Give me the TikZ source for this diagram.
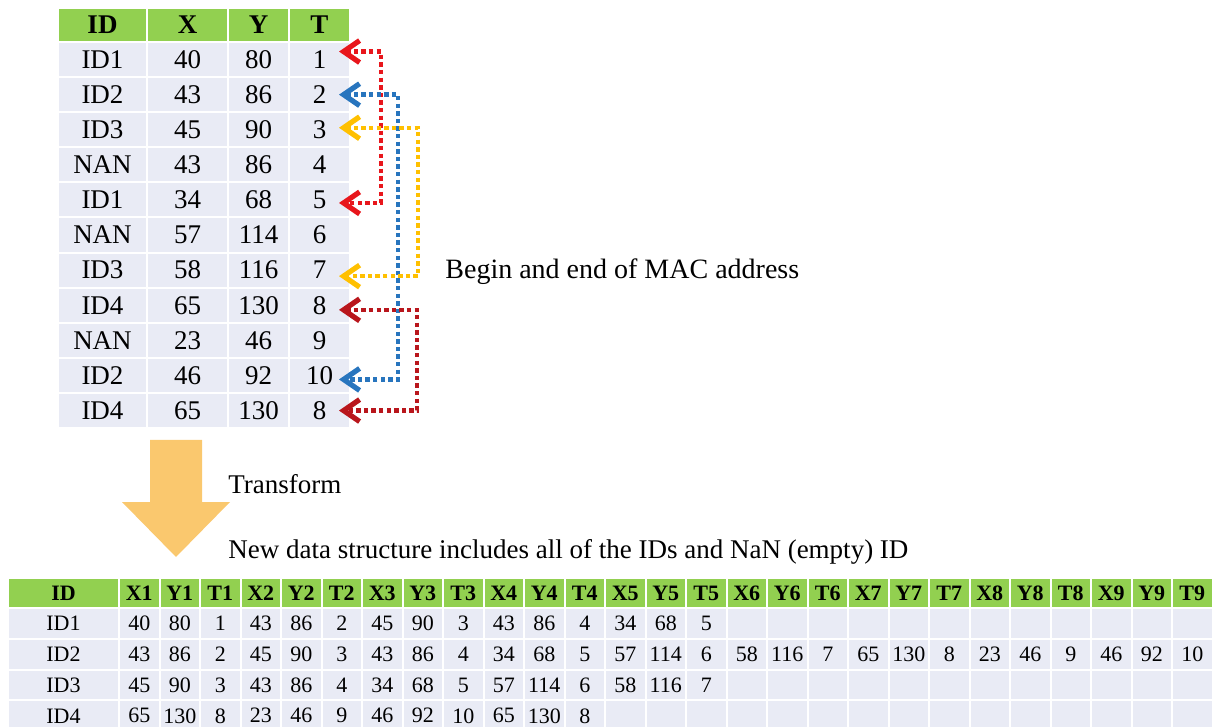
\documentclass[tikz,border=0pt]{standalone}
\usepackage{fontspec}
\setmainfont{Liberation Serif}
\usetikzlibrary{arrows.meta, positioning, calc}
\definecolor{hdrgreen}{RGB}{146,208,80}
\definecolor{cellgray}{RGB}{233,235,245}
\definecolor{linkred}{RGB}{232,22,28}
\definecolor{linkblue}{RGB}{40,117,190}
\definecolor{linkyellow}{RGB}{255,192,0}
\definecolor{linkdarkred}{RGB}{185,22,28}
\definecolor{flowarrow}{RGB}{250,200,110}
\tikzset{
    cell/.style={rectangle, draw=white, line width=1pt, fill=cellgray, inner sep=0pt,
        font=\fontsize{13.5}{16}\selectfont},
    hcell/.style={cell, fill=hdrgreen, font=\fontsize{13.5}{16}\selectfont\bfseries},
    % the wide table uses a smaller size
    small/.style={font=\fontsize{11}{13}\selectfont},
    smallbf/.style={font=\fontsize{11}{13}\selectfont\bfseries},
    link/.style={<->, >={Straight Barb[length=8pt, width=11pt, line width=2.6pt]}, line width=2.2pt,
        dash pattern=on 2.2pt off 1.6pt},
    note/.style={anchor=west, inner sep=0pt, font=\fontsize{14}{16}\selectfont},
}
\begin{document}
\begin{tikzpicture}[x=0.5pt, y=-0.5pt]
    \useasboundingbox (0,0) rectangle (1222,727);

    % raw records
    \foreach \h/\cx/\w [count=\c] in {ID/102.5/44.5, X/187.5/40.5, Y/258.5/30.5, T/319.5/30.5}
        \node[hcell, minimum width=\w pt, minimum height=17pt] (a-0-\c) at (\cx,25) {\h};
    \foreach \id/\x/\y/\t [count=\r] in {ID1/40/80/1, ID2/43/86/2, ID3/45/90/3, NAN/43/86/4,
            ID1/34/68/5, NAN/57/114/6, ID3/58/116/7, ID4/65/130/8, NAN/23/46/9,
            ID2/46/92/10, ID4/65/130/8} {
        \node[cell, minimum width=44.5pt, minimum height=17.55pt] (a-\r-1) at (102.5, {24.45+35.1*\r}) {\id};
        \node[cell, minimum width=40.5pt, minimum height=17.55pt] (a-\r-2) at (187.5, {24.45+35.1*\r}) {\x};
        \node[cell, minimum width=30.5pt, minimum height=17.55pt] (a-\r-3) at (258.5, {24.45+35.1*\r}) {\y};
        \node[cell, minimum width=30.5pt, minimum height=17.55pt] (a-\r-4) at (319.5, {24.45+35.1*\r}) {\t};
    }

    % begin/end links
    \draw[link, linkred] ([xshift=-6pt, yshift=4pt]a-1-4.east) -- ++(21pt,0)
        |- ([xshift=-6pt, yshift=-1.5pt]a-5-4.east);
    \draw[link, linkblue] ([xshift=-6pt]a-2-4.east) -- ++(29.5pt,0)
        |- ([xshift=-6pt, yshift=-2pt]a-10-4.east);
    \draw[link, linkyellow] ([xshift=-6pt, yshift=1pt]a-3-4.east) -- ++(39.5pt,0)
        |- ([xshift=-6pt, yshift=-3pt]a-7-4.east);
    \draw[link, linkdarkred] ([xshift=-6pt, yshift=-2.3pt]a-8-4.east) -- ++(39pt,0)
        |- ([xshift=-6pt]a-11-4.east);

    \node[note] (mac) at (445,272) {Begin and end of MAC address};

    % transform arrow
    \fill[flowarrow] (150,440) -- (202,440) -- (202,502) -- (230,502) -- (176,557)
        -- (122,502) -- (150,502) -- cycle;
    \node[note, font=\fontsize{13.5}{16}\selectfont] (transform) at (228,484) {Transform};
    \node[note, font=\fontsize{13.5}{16}\selectfont] (newds) at (228,552)
        {New data structure includes all of the IDs and NaN (empty) ID};

    % one row per ID
    \node[hcell, smallbf, minimum width=55.5pt, minimum height=15pt] (b-0-0) at (63.5,593) {ID};
    \foreach \n in {1,...,9}
        \foreach \hl [count=\j] in {X,Y,T}
            \node[hcell, smallbf, minimum width=20.25pt, minimum height=15pt]
                (b-0-\hl\n) at ({98.75+40.5*(3*\n-3+\j)}, 593) {\hl\n};
    \foreach \id/\vals [count=\r] in {
            ID1/{40,80,1,43,86,2,45,90,3,43,86,4,34,68,5,,,,,,,,,,,,},
            ID2/{43,86,2,45,90,3,43,86,4,34,68,5,57,114,6,58,116,7,65,130,8,23,46,9,46,92,10},
            ID3/{45,90,3,43,86,4,34,68,5,57,114,6,58,116,7,,,,,,,,,,,,},
            ID4/{65,130,8,23,46,9,46,92,10,65,130,8,,,,,,,,,,,,,,,}} {
        \node[cell, small, minimum width=55.5pt, minimum height=15.4pt] (b-\r-0) at (63.5, {592.6+30.8*\r}) {\id};
        \foreach \v [count=\c] in \vals
            \node[cell, small, minimum width=20.25pt, minimum height=15.4pt]
                (b-\r-\c) at ({98.75+40.5*\c}, {592.6+30.8*\r}) {\v};
    }
\end{tikzpicture}
\end{document}
